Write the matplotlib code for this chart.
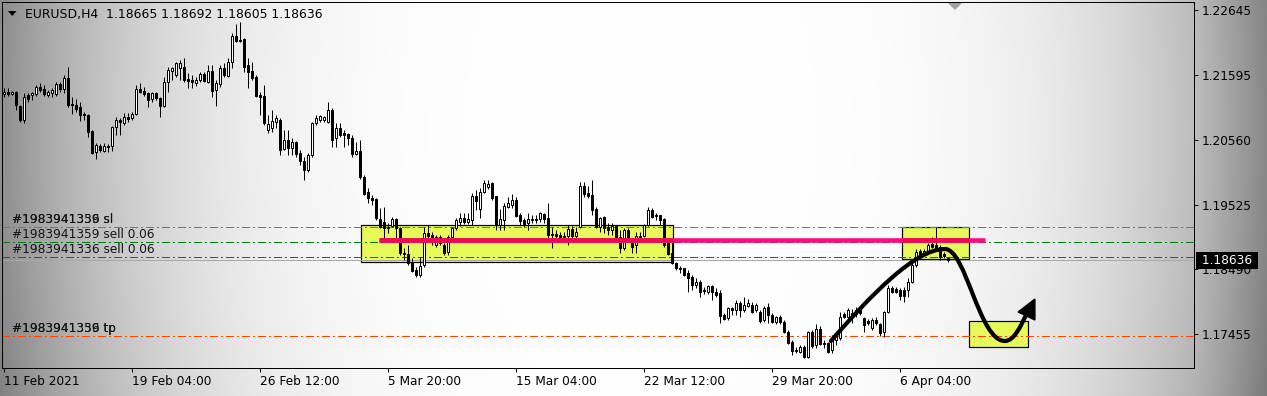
import numpy as np
import matplotlib
matplotlib.use("Agg")
import matplotlib.pyplot as plt
from matplotlib.patches import Rectangle, PathPatch, Polygon
from matplotlib.path import Path

plt.rcParams['font.family'] = ['DejaVu Sans']

W, H, DPI = 1267, 396, 100
PX = 72.0 / DPI  # one pixel in points

# ---------------- data ----------------
opens = [1.21296,1.21328,1.21296,1.21328,1.21104,1.20880,1.21280,1.21280,1.21296,1.21408,
 1.21376,1.21280,1.21312,1.21296,1.21456,1.21376,1.21552,1.21136,1.21120,1.21088,
 1.20976,1.20960,1.20704,1.20368,1.20464,1.20384,1.20464,1.20464,1.20768,1.20880,
 1.20832,1.20928,1.20912,1.20976,1.21376,1.21344,1.21312,1.21216,1.21312,1.21232,
 1.21104,1.21488,1.21664,1.21600,1.21712,1.21728,1.21536,1.21520,1.21472,1.21520,
 1.21616,1.21488,1.21664,1.21360,1.21456,1.21712,1.21584,1.21808,1.22224,1.22160,
 1.22176,1.21760,1.21664,1.21568,1.21280,1.21264,1.20720,1.20752,1.20848,1.20880,
 1.20416,1.20560,1.20432,1.20528,1.20352,1.20224,1.20080,1.20320,1.20832,1.20880,
 1.20880,1.20848,1.21040,1.20592,1.20752,1.20672,1.20656,1.20592,1.20336,1.20384,
 1.19968,1.19728,1.19632,1.19616,1.19296,1.19248,1.19168,1.19184,1.19296,1.19152,
 1.18752,1.18736,1.18608,1.18480,1.18400,1.18560,1.19072,1.19040,1.18880,1.19008,
 1.18880,1.18768,1.19008,1.19152,1.19248,1.19312,1.19248,1.19280,1.19664,1.19456,
 1.19728,1.19808,1.19872,1.19664,1.19200,1.19280,1.19488,1.19520,1.19600,1.19360,
 1.19280,1.19232,1.19280,1.19296,1.19296,1.19376,1.19312,1.19056,1.19056,1.19040,
 1.19024,1.19024,1.19136,1.19024,1.19168,1.19824,1.19712,1.19680,1.19456,1.19168,
 1.19328,1.19168,1.19120,1.19184,1.19008,1.18832,1.19120,1.18960,1.18880,1.19008,
 1.19024,1.19200,1.19440,1.19360,1.19360,1.19296,1.18912,1.18752,1.18592,1.18512,
 1.18512,1.18432,1.18368,1.18240,1.18288,1.18160,1.18128,1.18224,1.18128,1.18112,
 1.17760,1.17712,1.17872,1.17840,1.17952,1.17840,1.17904,1.17920,1.17840,1.17808,
 1.17680,1.17888,1.17760,1.17648,1.17728,1.17648,1.17488,1.17328,1.17200,1.17168,
 1.17248,1.17088,1.17488,1.17280,1.17536,1.17312,1.17312,1.17200,1.17360,1.17392,
 1.17776,1.17728,1.17728,1.17776,1.17840,1.17712,1.17664,1.17552,1.17680,1.17616,
 1.17488,1.17808,1.18192,1.18176,1.18160,1.18160,1.18160,1.18288,1.18560,1.18784,
 1.18752,1.18768,1.18896,1.18880,1.18848,1.18736,1.18665]
highs = [1.21392,1.21392,1.21344,1.21344,1.21120,1.21312,1.21312,1.21328,1.21440,1.21472,
 1.21440,1.21360,1.21392,1.21488,1.21488,1.21600,1.21728,1.21248,1.21216,1.21168,
 1.21008,1.20976,1.20720,1.20512,1.20496,1.20512,1.20496,1.20784,1.20928,1.20912,
 1.20992,1.20992,1.21008,1.21440,1.21472,1.21408,1.21328,1.21328,1.21328,1.21248,
 1.21568,1.21728,1.21728,1.21808,1.21840,1.21872,1.21632,1.21600,1.21568,1.21648,
 1.21648,1.21760,1.21760,1.21520,1.21760,1.21792,1.21872,1.22272,1.22416,1.22448,
 1.22192,1.21872,1.21808,1.21600,1.21328,1.21440,1.20960,1.21040,1.20960,1.20912,
 1.20720,1.20720,1.20592,1.20544,1.20400,1.20288,1.20352,1.20848,1.20960,1.20960,
 1.20944,1.21168,1.21072,1.20832,1.20832,1.20720,1.20672,1.20640,1.20528,1.20560,
 1.20000,1.19792,1.19680,1.19632,1.19472,1.19488,1.19232,1.19328,1.19312,1.19168,
 1.18832,1.18880,1.18672,1.18528,1.18688,1.19168,1.19200,1.19088,1.19040,1.19040,
 1.18912,1.19040,1.19168,1.19312,1.19392,1.19392,1.19392,1.19712,1.19760,1.19792,
 1.19920,1.19920,1.19888,1.19664,1.19456,1.19552,1.19648,1.19696,1.19648,1.19392,
 1.19312,1.19392,1.19360,1.19360,1.19408,1.19392,1.19552,1.19168,1.19120,1.19088,
 1.19088,1.19200,1.19184,1.19168,1.19888,1.19888,1.19824,1.19920,1.19488,1.19328,
 1.19344,1.19232,1.19232,1.19200,1.19120,1.19152,1.19152,1.18992,1.19088,1.19088,
 1.19216,1.19488,1.19472,1.19392,1.19360,1.19312,1.18928,1.18928,1.18608,1.18544,
 1.18512,1.18480,1.18400,1.18352,1.18320,1.18208,1.18240,1.18240,1.18192,1.18160,
 1.17792,1.17888,1.17888,1.18000,1.17984,1.18048,1.18016,1.17968,1.17952,1.17840,
 1.17904,1.17952,1.17792,1.17744,1.17760,1.17680,1.17520,1.17360,1.17248,1.17280,
 1.17280,1.17504,1.17520,1.17616,1.17584,1.17360,1.17328,1.17440,1.17472,1.17808,
 1.17808,1.17872,1.17856,1.17888,1.17856,1.17728,1.17696,1.17712,1.17728,1.17632,
 1.17824,1.18240,1.18224,1.18208,1.18192,1.18208,1.18352,1.18592,1.18816,1.18816,
 1.18816,1.18912,1.19008,1.19168,1.18880,1.18768,1.18692]
lows = [1.21248,1.21264,1.21280,1.21040,1.20848,1.20832,1.21168,1.21200,1.21264,1.21328,
 1.21264,1.21248,1.21248,1.21264,1.21328,1.21312,1.21088,1.20976,1.21008,1.20864,
 1.20880,1.20608,1.20336,1.20256,1.20368,1.20368,1.20368,1.20384,1.20640,1.20640,
 1.20800,1.20848,1.20880,1.20960,1.21312,1.21264,1.21088,1.21168,1.21200,1.20928,
 1.21088,1.21328,1.21520,1.21568,1.21520,1.21488,1.21392,1.21392,1.21424,1.21488,
 1.21488,1.21472,1.21248,1.21104,1.21408,1.21568,1.21568,1.21712,1.22128,1.22128,
 1.21648,1.21392,1.21520,1.21248,1.20960,1.20800,1.20672,1.20688,1.20752,1.20320,
 1.20400,1.20320,1.20320,1.20288,1.20160,1.19920,1.20048,1.20288,1.20800,1.20848,
 1.20848,1.20832,1.20448,1.20448,1.20608,1.20448,1.20480,1.20288,1.20320,1.19936,
 1.19680,1.19552,1.19520,1.19280,1.19152,1.18992,1.19072,1.19168,1.18992,1.18720,
 1.18640,1.18560,1.18448,1.18368,1.18368,1.18528,1.18960,1.18880,1.18848,1.18880,
 1.18720,1.18720,1.18992,1.19120,1.19184,1.19216,1.19216,1.19200,1.19440,1.19312,
 1.19712,1.19776,1.19600,1.19120,1.19120,1.19120,1.19472,1.19472,1.19328,1.19200,
 1.19168,1.19120,1.19232,1.19232,1.19248,1.19232,1.18960,1.18832,1.18992,1.18960,
 1.18992,1.18880,1.18992,1.18992,1.19152,1.19648,1.19632,1.19360,1.19152,1.19088,
 1.19072,1.19040,1.19040,1.18960,1.18752,1.18800,1.18928,1.18752,1.18752,1.18960,
 1.19008,1.19184,1.19312,1.19280,1.19200,1.18848,1.18720,1.18576,1.18480,1.18432,
 1.18384,1.18128,1.18160,1.18192,1.18048,1.18096,1.18096,1.18000,1.18048,1.17632,
 1.17680,1.17680,1.17760,1.17760,1.17728,1.17808,1.17888,1.17792,1.17808,1.17632,
 1.17648,1.17632,1.17632,1.17616,1.17616,1.17472,1.17296,1.17120,1.17152,1.17152,
 1.17072,1.17072,1.17232,1.17232,1.17280,1.17232,1.17152,1.17152,1.17280,1.17360,
 1.17712,1.17680,1.17632,1.17728,1.17760,1.17488,1.17600,1.17520,1.17600,1.17424,
 1.17408,1.17792,1.18112,1.18112,1.18000,1.17968,1.18048,1.18272,1.18528,1.18704,
 1.18720,1.18736,1.18832,1.18800,1.18640,1.18672,1.18605]
closes = [1.21328,1.21296,1.21328,1.21120,1.20880,1.21248,1.21216,1.21312,1.21408,1.21360,
 1.21296,1.21328,1.21360,1.21456,1.21376,1.21552,1.21120,1.21120,1.21056,1.20960,
 1.20960,1.20688,1.20352,1.20480,1.20400,1.20464,1.20448,1.20768,1.20880,1.20848,
 1.20928,1.20896,1.20976,1.21376,1.21328,1.21296,1.21200,1.21312,1.21232,1.21104,
 1.21488,1.21680,1.21712,1.21792,1.21792,1.21520,1.21504,1.21488,1.21520,1.21616,
 1.21504,1.21664,1.21344,1.21472,1.21712,1.21600,1.21808,1.22224,1.22144,1.22144,
 1.21728,1.21648,1.21552,1.21264,1.21248,1.20832,1.20816,1.20864,1.20912,1.20400,
 1.20560,1.20432,1.20528,1.20336,1.20224,1.20080,1.20320,1.20832,1.20912,1.20944,
 1.20928,1.21040,1.20560,1.20752,1.20640,1.20640,1.20592,1.20336,1.20384,1.19968,
 1.19696,1.19632,1.19600,1.19312,1.19168,1.19152,1.19152,1.19296,1.19152,1.18752,
 1.18736,1.18592,1.18464,1.18400,1.18544,1.19072,1.19024,1.18928,1.19008,1.18912,
 1.18752,1.19008,1.19152,1.19280,1.19312,1.19248,1.19296,1.19664,1.19584,1.19728,
 1.19872,1.19856,1.19632,1.19200,1.19296,1.19504,1.19552,1.19600,1.19344,1.19264,
 1.19216,1.19296,1.19296,1.19280,1.19392,1.19296,1.19040,1.19040,1.19024,1.18992,
 1.19008,1.19136,1.19024,1.19088,1.19824,1.19696,1.19664,1.19440,1.19168,1.19312,
 1.19152,1.19120,1.19184,1.19008,1.18832,1.19120,1.18960,1.18848,1.19024,1.19024,
 1.19200,1.19440,1.19328,1.19344,1.19280,1.18880,1.18736,1.18592,1.18512,1.18496,
 1.18400,1.18352,1.18240,1.18288,1.18128,1.18144,1.18224,1.18128,1.18080,1.17744,
 1.17696,1.17872,1.17840,1.17952,1.17840,1.17920,1.17952,1.17808,1.17920,1.17664,
 1.17872,1.17760,1.17648,1.17728,1.17648,1.17488,1.17312,1.17184,1.17184,1.17248,
 1.17088,1.17488,1.17264,1.17536,1.17296,1.17296,1.17168,1.17392,1.17424,1.17728,
 1.17728,1.17840,1.17792,1.17840,1.17792,1.17600,1.17632,1.17680,1.17632,1.17472,
 1.17808,1.18192,1.18128,1.18128,1.18064,1.18064,1.18288,1.18560,1.18768,1.18736,
 1.18784,1.18880,1.18848,1.18832,1.18688,1.18704,1.18636]

date_tick_bars = [0, 32, 64, 96, 128, 160, 192, 224]
date_tick_labels = ['11 Feb 2021', '19 Feb 04:00', '26 Feb 12:00', '5 Mar 20:00',
                    '15 Mar 04:00', '22 Mar 12:00', '29 Mar 20:00', '6 Apr 04:00']
price_ticks = [1.17455, 1.18490, 1.19525, 1.20560, 1.21595, 1.22645]

last_price = 1.18636
order_prices = [1.19168, 1.18933, 1.18693, 1.17424]
order_colors = ['#ff4500', '#008000', '#008000', '#ff4500']
order_labels = [['#1983941336 sl', '#1983941359 sl'],
                ['#1983941359 sell 0.06'],
                ['#1983941336 sell 0.06'],
                ['#1983941336 tp', '#1983941359 tp']]

box_x0 = [89.3, 224.6, 241.3]
box_x1 = [167.3, 241.3, 256.1]
box_lo = [1.18608, 1.18656, 1.17248]
box_hi = [1.19200, 1.19168, 1.17664]

pink_x = [93.8, 245.3]
pink_price = 1.18960

# forecast curve (bezier control points: bar position, price)
curve_x = [206.8, 216.6, 227.8, 235.3, 240.6, 243.8, 250.3, 252.6, 254.3, 255.8]
curve_p = [1.17344, 1.18064, 1.18816, 1.18816, 1.18816, 1.17344, 1.17344, 1.17344, 1.17584, 1.17792]
head_x = [257.8, 253.6, 257.8]
head_p = [1.18016, 1.17808, 1.17680]

title = 'EURUSD,H4  1.18665 1.18692 1.18605 1.18636'

# ---------------- figure ----------------
fig = plt.figure(figsize=(W / DPI, H / DPI), dpi=DPI)

# background gradient (soft radial vignette)
yy, xx = np.mgrid[0:H, 0:W]
d = np.hypot(xx - 640.0, (yy - 130.0) * 0.6)
v = 1.0 - 0.45 * (d / 644.0) ** 3.65
v = v - 0.0009 * np.clip(xx - 1195.0, 0, None)
v = np.clip(v, 0, 1)
bg = fig.add_axes([0, 0, 1, 1], zorder=-10)
bg.imshow(np.dstack([v, v, v]), extent=(0, W, H, 0), aspect='auto', interpolation='bilinear')
bg.set_xlim(0, W)
bg.set_ylim(H, 0)
bg.axis('off')

ax = fig.add_axes([2 / W, (H - 368) / H, 1192 / W, 366 / H])
ax.set_facecolor('none')
ax.set_xlim(-0.425, 297.575)
ax.set_ylim(1.16912, 1.22768)

o = np.array(opens); hi = np.array(highs); lo = np.array(lows); c = np.array(closes)
x = np.arange(len(c))

# boxes
for x0, x1, b0, b1 in zip(box_x0, box_x1, box_lo, box_hi):
    ax.add_patch(Rectangle((x0, b0), x1 - x0, b1 - b0, facecolor='#e6f85a',
                           edgecolor='black', lw=PX * 1.2, zorder=1))

# order lines
for pr, col in zip(order_prices, order_colors):
    ax.axhline(pr, color=col, lw=PX, linestyle=(0, (8, 4, 2, 4)), zorder=2,
               antialiased=False)
ax.axhline(last_price, color='#a8a8a8', lw=PX, zorder=2, antialiased=False)

for pr, labs in zip(order_prices, order_labels):
    for lab in labs:
        ax.annotate(lab, xy=(10 / 1192, pr), xycoords=('axes fraction', 'data'),
                    xytext=(0, 3), textcoords='offset points', va='baseline', ha='left',
                    fontsize=8.7, color='#141414', zorder=3)

# candles
ax.vlines(x, lo, hi, color='black', lw=PX, zorder=4)
up = c >= o
bot = np.minimum(o, c)
ht = np.abs(c - o)
ax.bar(x[up], ht[up], bottom=bot[up], width=0.5, facecolor='white',
       edgecolor='black', lw=PX, zorder=5)
ax.bar(x[~up], ht[~up], bottom=bot[~up], width=0.5, facecolor='black',
       edgecolor='black', lw=PX, zorder=5)

# pink horizontal line (crimson where it crosses the yellow boxes)
ax.plot(pink_x, [pink_price, pink_price], color='#ff0a80', lw=3.3, solid_capstyle='butt', zorder=6)
for x0, x1, b0, b1 in zip(box_x0, box_x1, box_lo, box_hi):
    if b0 <= pink_price <= b1:
        s0, s1 = max(x0, pink_x[0]), min(x1, pink_x[1])
        if s1 > s0:
            ax.plot([s0, s1], [pink_price, pink_price], color='#ee0a52', lw=3.3,
                    solid_capstyle='butt', zorder=6)

# forecast curve
verts = list(zip(curve_x, curve_p))
codes = [Path.MOVETO] + [Path.CURVE4] * (len(verts) - 1)
ax.add_patch(PathPatch(Path(verts, codes), facecolor='none', edgecolor='black',
                       lw=3.0, capstyle='round', zorder=7))
ax.add_patch(Polygon(list(zip(head_x, head_p)), closed=True, facecolor='black',
                     edgecolor='black', lw=1, zorder=7))

# axes styling
for sp in ax.spines.values():
    sp.set_color('black')
    sp.set_linewidth(PX)
ax.set_xticks(date_tick_bars)
ax.set_xticklabels(date_tick_labels, ha='left')
ax.yaxis.tick_right()
ax.set_yticks(price_ticks)
ax.set_yticklabels(['%.5f' % p for p in price_ticks])
ax.tick_params(axis='x', direction='out', length=4 * PX, width=PX, pad=2.2,
               labelsize=8.7, colors='black')
ax.tick_params(axis='y', direction='out', length=4 * PX, width=PX, pad=2.6,
               labelsize=8.7, colors='black')

# current price tag
ax.text((1197.8 - 2) / 1192, last_price, ' %.5f ' % last_price,
        transform=ax.get_yaxis_transform(), va='center', ha='left', fontsize=8.7,
        color='white', zorder=10, clip_on=False,
        bbox=dict(boxstyle='square,pad=0.15', fc='black', ec='none'))

# header
fig.text(25 / W, 1 - 18 / H, title, fontsize=8.95, color='black', va='baseline', ha='left')
fig.add_artist(Polygon([[8 / W, 1 - 11 / H], [16.5 / W, 1 - 11 / H], [12.25 / W, 1 - 16 / H]],
                       closed=True, transform=fig.transFigure, facecolor='black', edgecolor='none'))
fig.add_artist(Polygon([[948 / W, 1 - 3 / H], [962 / W, 1 - 3 / H], [955 / W, 1 - 10 / H]],
                       closed=True, transform=fig.transFigure, facecolor='#a0a0a0', edgecolor='none'))

fig.savefig('out.png', dpi=DPI)
